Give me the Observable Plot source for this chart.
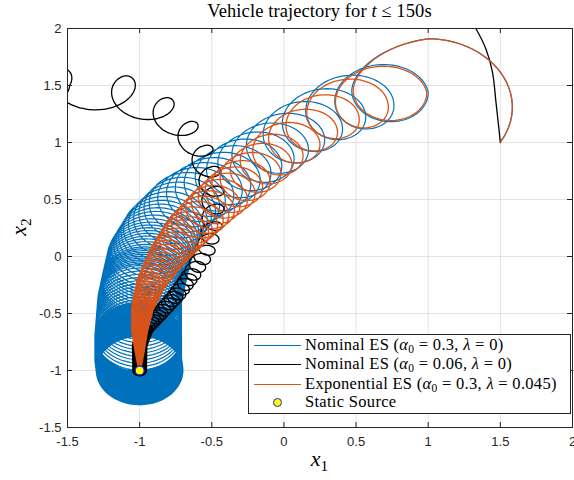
<!DOCTYPE html>
<html>
<head>
<meta charset="utf-8">
<script src="https://cdn.jsdelivr.net/npm/d3@7"></script>
<script src="https://cdn.jsdelivr.net/npm/@observablehq/plot@0.6"></script>
<style>
  html, body { margin: 0; padding: 0; background: #fff; }
  #wrap { position: relative; width: 574px; height: 480px; overflow: hidden; }
  .serif { font-family: "Liberation Serif", "Times New Roman", serif; color: #000; }
  sub { font-size: 0.7em; vertical-align: -0.3em; line-height: 0; }
</style>
</head>
<body>
<div id="wrap">
  <div id="title" class="serif" style="position:absolute;left:67px;width:505px;top:1px;text-align:center;font-size:18.5px;letter-spacing:0.1px;"></div>
  <div id="chart" style="position:absolute;left:0;top:26px;"></div>
  <div id="xlabel" class="serif" style="position:absolute;left:67px;width:505px;top:446px;text-align:center;font-size:22px;"></div>
  <div id="ylabel" class="serif" style="position:absolute;left:3px;top:215px;width:30px;height:24px;font-size:22px;transform:rotate(-90deg);transform-origin:15px 12px;text-align:center;"></div>
  <div id="legend" class="serif" style="position:absolute;left:248px;top:334px;width:321px;height:78px;border:1px solid #262626;background:#fff;font-size:16.5px;letter-spacing:0.3px;"></div>
</div>
<script>
// ---------------- data ----------------
const xTicks = [-1.5, -1, -0.5, 0, 0.5, 1, 1.5, 2];
const yTicks = [-1.5, -1, -0.5, 0, 0.5, 1, 1.5, 2];

// Nominal ES (alpha0 = 0.3, lambda = 0): loop centres, loop radii, loop counter
const blueU = [0, 0.35, 0.6, 1.1, 2.1, 3.1, 4.1, 5.6, 7.5, 10.5, 14.5, 19.5, 26, 35, 46, 57, 90, 150];
const blueCx = [1.04, 1.0, 0.74, 0.735, 0.50, 0.315, 0.16, -0.02, -0.21, -0.44, -0.68, -0.84, -0.93, -0.97, -1.0, -1.01, -1.01, -1.0];
const blueCy = [1.34, 1.40, 1.46, 1.44, 1.36, 1.25, 1.14, 0.99, 0.84, 0.66, 0.48, 0.25, 0.02, -0.2, -0.38, -0.7, -0.9, -1.0];
const blueR = [0.57, 0.51, 0.27, 0.265, 0.26, 0.25, 0.245, 0.24, 0.24, 0.245, 0.25, 0.27, 0.29, 0.29, 0.29, 0.3, 0.3, 0.3];
const bluePhase = -36;

// Exponential ES (alpha0 = 0.3, lambda = 0.045)
const orangeU = [0, 0.35, 0.6, 1.1, 2.1, 3.1, 4.1, 6, 9, 13, 18, 25, 33, 45, 60, 80, 110, 150];
const orangeCx = [1.04, 1.0, 0.74, 0.735, 0.48, 0.30, 0.16, -0.06, -0.28, -0.48, -0.66, -0.80, -0.92, -0.98, -1.0, -1.0, -1.0, -1.0];
const orangeCy = [1.34, 1.40, 1.46, 1.44, 1.35, 1.23, 1.11, 0.9, 0.67, 0.46, 0.24, 0.02, -0.23, -0.45, -0.65, -0.82, -0.95, -1.0];
const orangeR = [0.57, 0.51, 0.26, 0.255, 0.24, 0.22, 0.21, 0.2, 0.19, 0.18, 0.165, 0.135, 0.10, 0.075, 0.055, 0.033, 0.014, 0.004];
const orangePhase = -36;

// Nominal ES (alpha0 = 0.06, lambda = 0): first wide excursion, then loops
const blackIntroX = [1.5, 1.47, 1.445, 1.40, 1.33, 1.15, 0.5, -0.6, -1.6, -2.0, -1.9, -1.7];
const blackIntroY = [1.0, 1.35, 1.62, 1.82, 2.0, 2.35, 2.75, 2.8, 2.4, 1.7, 1.25, 1.2];
const blackU = [-0.15, 0, 1.25, 2.25, 3.25, 4.25, 5.25, 6.25, 7.25, 8.25, 10.25, 13, 17, 23, 30, 42, 65, 110];
const blackCx = [-1.66, -1.65, -1.10, -0.83, -0.66, -0.56, -0.51, -0.49, -0.49, -0.50, -0.55, -0.64, -0.74, -0.86, -0.96, -1.0, -1.0, -1.0];
const blackCy = [1.50, 1.50, 1.42, 1.27, 1.08, 0.88, 0.70, 0.53, 0.38, 0.23, 0.03, -0.16, -0.33, -0.50, -0.64, -0.78, -0.92, -1.0];
const blackR = [0.165, 0.165, 0.165, 0.12, 0.10, 0.09, 0.085, 0.08, 0.075, 0.07, 0.066, 0.063, 0.06, 0.056, 0.052, 0.05, 0.048, 0.047];
const blackPhase = 0;

const sourceX = [-1];
const sourceY = [-1];

const legendNames = ["Nominal ES", "Nominal ES", "Exponential ES", "Static Source"];
const legendAlpha = [0.3, 0.06, 0.3];
const legendLambda = [0, 0, 0.045];
const seriesColors = ["#0072BD", "#000000", "#D95319"];

const titleHTML = 'Vehicle trajectory for <i>t</i> &le; 150s';
const xLabelHTML = '<i>x</i><sub>1</sub>';
const yLabelHTML = '<i>x</i><sub>2</sub>';

// ---------------- build the paths (loops around moving centres) ----------------
function loops(us, cxs, cys, rs, phaseDeg) {
  const pts = [];
  const step = 1 / 72;
  for (let i = 0; i < us.length - 1; i++) {
    const n = Math.max(1, Math.ceil((us[i + 1] - us[i]) / step));
    for (let k = (i === 0 ? 0 : 1); k <= n; k++) {
      const t = k / n;
      const u = us[i] + (us[i + 1] - us[i]) * t;
      const cx = cxs[i] + (cxs[i + 1] - cxs[i]) * t;
      const cy = cys[i] + (cys[i + 1] - cys[i]) * t;
      const r = rs[i] + (rs[i + 1] - rs[i]) * t;
      const a = phaseDeg * Math.PI / 180 + 2 * Math.PI * u;
      pts.push({x: cx + r * Math.cos(a), y: cy + r * Math.sin(a)});
    }
  }
  return pts;
}

const blue = loops(blueU, blueCx, blueCy, blueR, bluePhase);
const orange = loops(orangeU, orangeCx, orangeCy, orangeR, orangePhase);
const black = blackIntroX.map((x, i) => ({x, y: blackIntroY[i]}))
  .concat(loops(blackU, blackCx, blackCy, blackR, blackPhase));
const source = sourceX.map((x, i) => ({x, y: sourceY[i]}));

// ---------------- plot ----------------
const W = 574, H = 454, mT = 2, mB = 53, mL = 67, mR = 2;
const innerW = W - mL - mR, innerH = H - mT - mB;
const axisColor = "#262626";
const fmt = d => String(d);

const chart = Plot.plot({
  width: W, height: H,
  marginTop: mT, marginBottom: mB, marginLeft: mL, marginRight: mR,
  x: {domain: [-1.5, 2], label: null},
  y: {domain: [-1.5, 2], label: null},
  style: {fontFamily: "'Liberation Sans', Arial, Helvetica, sans-serif", fontSize: "13px", color: axisColor, background: "#fff", overflow: "visible"},
  marks: [
    Plot.gridX(xTicks, {stroke: axisColor, strokeOpacity: 0.13}),
    Plot.gridY(yTicks, {stroke: axisColor, strokeOpacity: 0.13}),
    Plot.line(blue, {x: "x", y: "y", stroke: seriesColors[0], strokeWidth: 1.2, clip: true}),
    Plot.line(black, {x: "x", y: "y", stroke: seriesColors[1], strokeWidth: 1.3, curve: "catmull-rom", clip: true}),
    Plot.line(orange, {x: "x", y: "y", stroke: seriesColors[2], strokeWidth: 1.3, clip: true}),
    Plot.dot(source, {x: "x", y: "y", r: 4.5, fill: "#ffff00", stroke: "#2020d0", strokeWidth: 1.3}),
    Plot.tickX(xTicks, {x: d => d, insetTop: innerH - 5, stroke: axisColor}),
    Plot.tickX(xTicks, {x: d => d, insetBottom: innerH - 5, stroke: axisColor}),
    Plot.tickY(yTicks, {y: d => d, insetRight: innerW - 5, stroke: axisColor}),
    Plot.tickY(yTicks, {y: d => d, insetLeft: innerW - 5, stroke: axisColor}),
    Plot.axisX(xTicks, {tickSize: 0, tickPadding: 9, tickFormat: fmt, label: null, fill: axisColor}),
    Plot.axisY(yTicks, {tickSize: 0, tickPadding: 6, tickFormat: fmt, label: null, fill: axisColor}),
    Plot.frame({stroke: axisColor, strokeWidth: 1})
  ]
});
document.getElementById("chart").appendChild(chart);

document.getElementById("title").innerHTML = titleHTML;
document.getElementById("xlabel").innerHTML = xLabelHTML;
document.getElementById("ylabel").innerHTML = yLabelHTML;

// legend
const leg = document.getElementById("legend");
const rowTop = [0, 19, 39, 57];
legendNames.forEach((name, i) => {
  const row = document.createElement("div");
  row.style.cssText = `position:absolute;left:0;top:${rowTop[i]}px;height:20px;width:320px;`;
  let sample;
  if (i < 3) {
    sample = `<div style="position:absolute;left:5px;top:10px;width:47px;height:0;border-top:1.3px solid ${seriesColors[i]};"></div>`;
  } else {
    sample = `<div style="position:absolute;left:24px;top:6px;width:7px;height:7px;border-radius:50%;background:#ffff00;border:1.3px solid #2020d0;"></div>`;
  }
  const text = i < 3
    ? `${name} (<i>α</i><sub>0</sub> = ${legendAlpha[i]}, <i>λ</i> = ${legendLambda[i]})`
    : name;
  row.innerHTML = sample + `<div style="position:absolute;left:56px;top:0;white-space:nowrap;line-height:20px;">${text}</div>`;
  leg.appendChild(row);
});
</script>
</body>
</html>
